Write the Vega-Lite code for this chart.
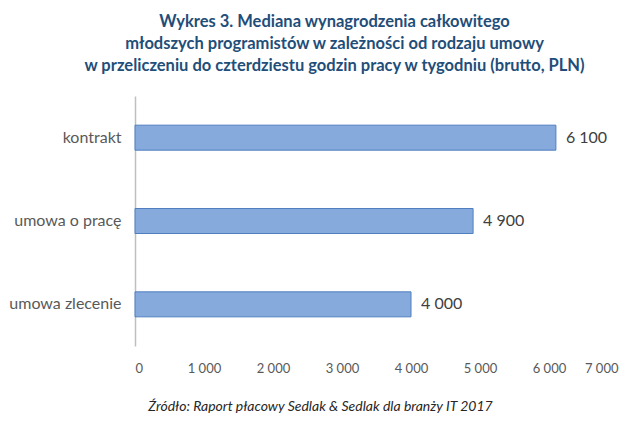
{
  "$schema": "https://vega.github.io/schema/vega-lite/v6.json",
  "width": 483,
  "height": 250,
  "autosize": {"type": "none"},
  "padding": {"left": 135, "top": 96, "right": 22, "bottom": 77},
  "background": "white",
  "config": {
    "view": {"stroke": null},
    "font": "Lato",
    "locale": {"number": {"decimal": ",", "thousands": " ", "grouping": [3], "currency": ["", " zł"]}}
  },
  "title": {
    "text": ["Wykres 3. Mediana wynagrodzenia całkowitego", "młodszych programistów w zależności od rodzaju umowy", "w przeliczeniu do czterdziestu godzin pracy w tygodniu (brutto, PLN)"],
    "font": "Lato",
    "fontSize": 16.5,
    "fontWeight": "bold",
    "color": "#1F4E79",
    "anchor": "middle",
    "dx": -42,
    "lineHeight": 22,
    "offset": 22
  },
  "data": {
    "values": [
      {"umowa": "kontrakt", "mediana": 6100},
      {"umowa": "umowa o pracę", "mediana": 4900},
      {"umowa": "umowa zlecenie", "mediana": 4000}
    ]
  },
  "encoding": {
    "y": {
      "field": "umowa",
      "type": "nominal",
      "sort": null,
      "scale": {"paddingInner": 0.7, "paddingOuter": 0.35},
      "axis": {
        "title": null,
        "ticks": false,
        "domainColor": "#BFBFBF",
        "domainWidth": 1.5,
        "labelFont": "Lato",
        "labelFontSize": 16,
        "labelColor": "#595959",
        "labelPadding": 14
      }
    },
    "x": {
      "field": "mediana",
      "type": "quantitative",
      "scale": {"domain": [0, 7000]},
      "axis": {
        "values": [0, 1000, 2000, 3000, 4000, 5000, 6000, 7000],
        "format": ",d",
        "grid": false,
        "domain": false,
        "ticks": false,
        "labelFont": "Lato",
        "labelFontSize": 13,
        "labelColor": "#595959",
        "labelPadding": 16,
        "title": "Źródło: Raport płacowy Sedlak & Sedlak dla branży IT 2017",
        "titleFont": "Lato",
        "titleFontSize": 14,
        "titleFontWeight": "normal",
        "titleFontStyle": "italic",
        "titleColor": "#262626",
        "titleX": 185,
        "titleY": 64,
        "titleAnchor": "middle",
        "titleAlign": "center",
        "titleBaseline": "alphabetic"
      }
    }
  },
  "layer": [
    {
      "mark": {"type": "bar", "color": "#86AADC", "stroke": "#4F7FC0", "strokeWidth": 1}
    },
    {
      "mark": {"type": "text", "align": "left", "dx": 10, "font": "Lato", "fontSize": 16, "color": "#404040"},
      "encoding": {"text": {"field": "mediana", "type": "quantitative", "format": ",d"}}
    }
  ]
}
